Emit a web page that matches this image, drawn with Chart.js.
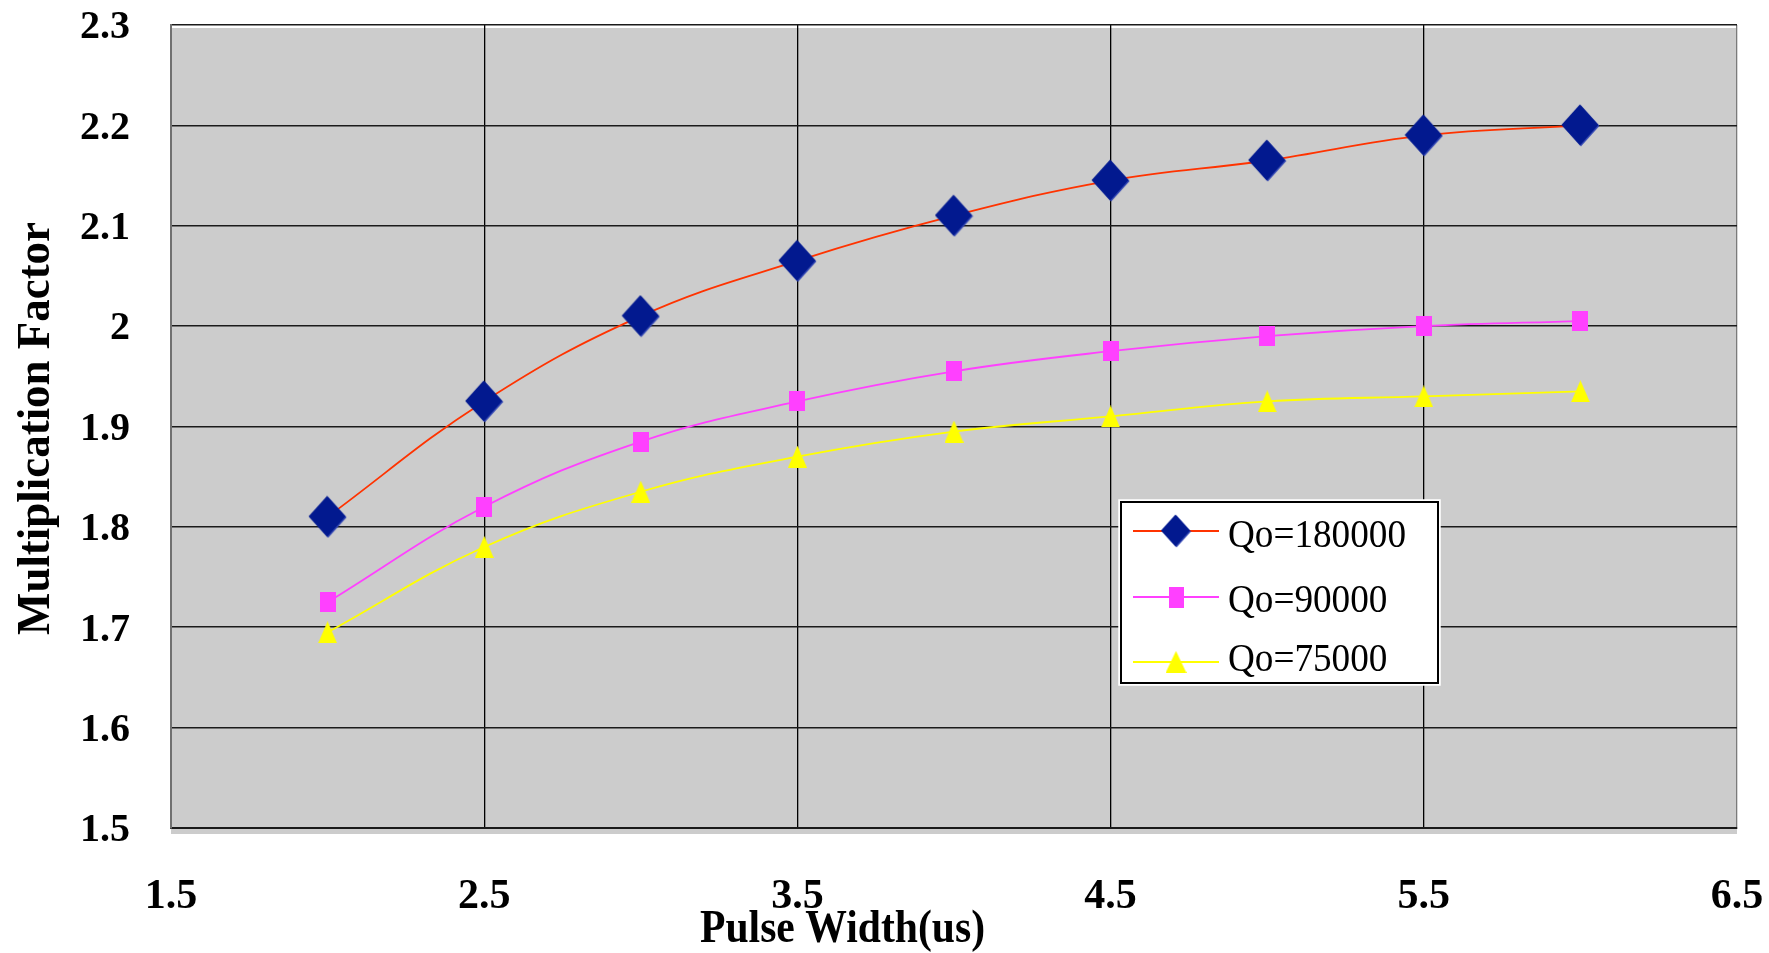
<!DOCTYPE html>
<html>
<head>
<meta charset="utf-8">
<title>Multiplication Factor vs Pulse Width</title>
<script src="https://cdn.jsdelivr.net/npm/chart.js@4.4.1/dist/chart.umd.min.js"></script>
<style>
  html, body { margin: 0; padding: 0; background: #ffffff; }
  #wrap { width: 1769px; height: 953px; }
</style>
</head>
<body>
<div id="wrap"><canvas id="chart" width="1769" height="953"></canvas></div>
<script>
// Measured multiplication factor for three loaded-Q values
const pulseWidths = [2, 2.5, 3, 3.5, 4, 4.5, 5, 5.5, 6];
const qo180000 = [1.81, 1.925, 2.01, 2.065, 2.11, 2.145, 2.165, 2.19, 2.2];
const qo90000  = [1.725, 1.82, 1.885, 1.925, 1.955, 1.975, 1.99, 2.0, 2.005];
const qo75000  = [1.695, 1.78, 1.835, 1.87, 1.895, 1.91, 1.925, 1.93, 1.935];
const seriesLabels = ['Qo=180000', 'Qo=90000', 'Qo=75000'];

const xTicks = [1.5, 2.5, 3.5, 4.5, 5.5, 6.5];
const yTicks = [1.5, 1.6, 1.7, 1.8, 1.9, 2.0, 2.1, 2.2, 2.3];

const xTitle = 'Pulse Width(us)';
const yTitle = 'Multiplication Factor';

const SERIF = "'Liberation Serif', 'Times New Roman', Times, serif";

// ---- marker sprites ----
function sprite(w, h, paint) {
  const c = document.createElement('canvas');
  c.width = w; c.height = h;
  paint(c.getContext('2d'), w, h);
  return c;
}
function diamondSprite(w, h) {
  return sprite(w + 2, h + 2, (g) => {
    const path = (o) => {
      g.beginPath();
      g.moveTo(w / 2 + o, o);
      g.lineTo(w + o, h / 2 + o);
      g.lineTo(w / 2 + o, h + o);
      g.lineTo(o, h / 2 + o);
      g.closePath();
    };
    g.fillStyle = '#3347b3'; path(1.5); g.fill();
    g.fillStyle = '#02198f'; path(0.5); g.fill();
  });
}
function rectSprite(w, h, color) {
  return sprite(w, h, (g) => { g.fillStyle = color; g.fillRect(0, 0, w, h); });
}
function triangleSprite(w, h, color) {
  return sprite(w, h, (g) => {
    g.fillStyle = color;
    g.beginPath();
    g.moveTo(w / 2, 0); g.lineTo(w, h); g.lineTo(0, h); g.closePath();
    g.fill();
  });
}

const lineColors = ['#ff3300', '#ff40ff', '#ffff00'];
const plotMarkers = [
  diamondSprite(37, 41),
  rectSprite(16, 20, '#ff40ff'),
  triangleSprite(19, 22, '#ffff00')
];
const legendMarkers = [
  diamondSprite(29, 32),
  rectSprite(15, 21, '#ff40ff'),
  triangleSprite(21, 22, '#ffff00')
];

const seriesValues = [qo180000, qo90000, qo75000];

const datasets = seriesValues.map((vals, i) => ({
  label: seriesLabels[i],
  data: pulseWidths.map((x, j) => ({ x: x, y: vals[j] })),
  borderColor: lineColors[i],
  backgroundColor: lineColors[i],
  borderWidth: 1.8,
  tension: 0.4,
  pointStyle: plotMarkers[i],
  pointRadius: 10,
  pointHoverRadius: 10,
  fill: false
}));

// keep tick labels from pushing the plot area inward
function noScalePadding(scale) {
  scale.paddingTop = 0;
  scale.paddingBottom = 0;
  scale.paddingLeft = 0;
  scale.paddingRight = 0;
}

// grey plot panel behind the grid
const panelPlugin = {
  id: 'panel',
  beforeDraw(chart) {
    const { ctx, chartArea: a } = chart;
    ctx.save();
    ctx.fillStyle = '#ffffff';
    ctx.fillRect(0, 0, chart.width, chart.height);
    ctx.fillStyle = '#cccccc';
    ctx.fillRect(a.left, a.top + 3, a.right - a.left, a.bottom - a.top + 3);
    ctx.restore();
  }
};

// axis titles and the boxed legend inside the plot
const annotatePlugin = {
  id: 'annotate',
  afterDraw(chart) {
    const ctx = chart.ctx;
    ctx.save();
    ctx.fillStyle = '#000000';

    // x-axis title
    ctx.font = 'bold 46px ' + SERIF;
    ctx.textAlign = 'center';
    ctx.textBaseline = 'alphabetic';
    let w = ctx.measureText(xTitle).width;
    ctx.save();
    ctx.translate(842.5, 942);
    ctx.scale(285 / w, 1);
    ctx.fillText(xTitle, 0, 0);
    ctx.restore();

    // y-axis title
    w = ctx.measureText(yTitle).width;
    ctx.save();
    ctx.translate(49, 428.5);
    ctx.rotate(-Math.PI / 2);
    ctx.scale(413 / w, 1);
    ctx.fillText(yTitle, 0, 0);
    ctx.restore();

    // legend box
    const bx = 1121, by = 502, bw = 317, bh = 181;
    ctx.strokeStyle = '#ffffff';
    ctx.lineWidth = 2.5;
    ctx.strokeRect(bx - 1.5, by - 1.5, bw + 3, bh + 3);
    ctx.fillStyle = '#ffffff';
    ctx.fillRect(bx, by, bw, bh);
    ctx.strokeStyle = '#000000';
    ctx.lineWidth = 2;
    ctx.strokeRect(bx, by, bw, bh);

    const rowY = [531, 597, 662];
    const textBase = [547, 612, 671];
    ctx.font = '40px ' + SERIF;
    ctx.textAlign = 'left';
    const tScale = 178 / ctx.measureText(seriesLabels[0]).width;
    chart.data.datasets.forEach((ds, i) => {
      ctx.strokeStyle = ds.borderColor;
      ctx.lineWidth = 2;
      ctx.beginPath();
      ctx.moveTo(1133, rowY[i]);
      ctx.lineTo(1219, rowY[i]);
      ctx.stroke();
      const m = legendMarkers[i];
      ctx.drawImage(m, 1176 - m.width / 2, rowY[i] - m.height / 2);
      ctx.fillStyle = '#000000';
      ctx.save();
      ctx.translate(1228, textBase[i]);
      ctx.scale(tScale, 1);
      ctx.fillText(ds.label, 0, 0);
      ctx.restore();
    });
    ctx.restore();
  }
};

new Chart(document.getElementById('chart'), {
  type: 'line',
  data: { datasets: datasets },
  options: {
    responsive: false,
    animation: false,
    devicePixelRatio: 1,
    events: [],
    layout: { padding: { left: 0, top: 25, right: 32, bottom: 0 } },
    plugins: {
      legend: { display: false },
      title: { display: false },
      tooltip: { enabled: false }
    },
    scales: {
      x: {
        type: 'linear',
        min: 1.5,
        max: 6.5,
        afterBuildTicks: (scale) => { scale.ticks = xTicks.map(v => ({ value: v })); },
        afterFit: (scale) => { scale.height = 125; noScalePadding(scale); },
        ticks: {
          color: '#000000',
          padding: 44,
          maxRotation: 0,
          font: { family: SERIF, size: 42, weight: 'bold' },
          callback: (v) => String(v)
        },
        grid: {
          drawTicks: false,
          lineWidth: 1.3,
          color: (c) => (c.tick && (c.tick.value === 1.5 || c.tick.value === 6.5)) ? '#7a7a7a' : '#000000'
        },
        border: { display: true, color: '#1a1a1a', width: 2 }
      },
      y: {
        type: 'linear',
        min: 1.5,
        max: 2.3,
        afterBuildTicks: (scale) => { scale.ticks = yTicks.map(v => ({ value: v })); },
        afterFit: (scale) => { scale.width = 171; noScalePadding(scale); },
        ticks: {
          color: '#000000',
          padding: 41,
          labelOffset: 3,
          font: { family: SERIF, size: 40, weight: 'bold' },
          callback: (v) => String(v)
        },
        grid: { drawTicks: false, lineWidth: 1.6, color: '#1a1a1a' },
        border: { display: true, color: '#707070', width: 2 }
      }
    }
  },
  plugins: [panelPlugin, annotatePlugin]
});
</script>
</body>
</html>
